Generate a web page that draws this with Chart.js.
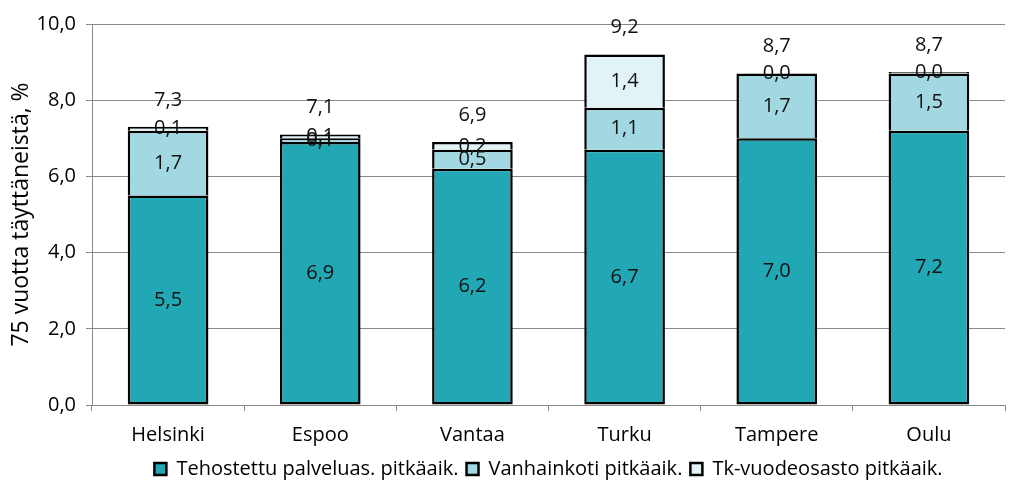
<!DOCTYPE html>
<html>
<head>
<meta charset="utf-8">
<script src="https://cdn.jsdelivr.net/npm/chart.js@4/dist/chart.umd.min.js"></script>
<style>
    html, body { margin: 0; padding: 0; background: #fff; }
    #wrap { width: 1021px; height: 489px; }
</style>
</head>
<body>
<div id="wrap"><canvas id="kaavio"></canvas></div>
<script>
// DATA
const kaupungit = ['Helsinki', 'Espoo', 'Vantaa', 'Turku', 'Tampere', 'Oulu'];
const tehostettu = [5.5, 6.9, 6.2, 6.7, 7.0, 7.2];
const vanhainkoti = [1.7, 0.1, 0.5, 1.1, 1.7, 1.5];
const tkVuodeosasto = [0.1, 0.1, 0.2, 1.4, 0.0, 0.04];
const yTicks = [0, 2, 4, 6, 8, 10];

const fontti = "'Open Sans', 'Noto Sans', sans-serif";

function pilkku(v) {
    return v.toFixed(1).replace('.', ',');
}

// arvot palkkien sisään ja summat yläpuolelle
const arvoPlugin = {
    id: 'arvot',
    afterDatasetsDraw(chart) {
        const ctx = chart.ctx;
        ctx.save();
        ctx.font = '20px ' + fontti;
        ctx.fillStyle = '#111';
        ctx.textAlign = 'center';
        ctx.textBaseline = 'middle';
        chart.data.datasets.forEach((ds, i) => {
            const meta = chart.getDatasetMeta(i);
            meta.data.forEach((bar, j) => {
                const y = (bar.y + bar.base) / 2;
                ctx.fillText(pilkku(ds.data[j]), bar.x, y);
            });
        });
        const last = chart.getDatasetMeta(chart.data.datasets.length - 1);
        last.data.forEach((bar, j) => {
            const summa = tehostettu[j] + vanhainkoti[j] + tkVuodeosasto[j];
            ctx.fillText(pilkku(summa), bar.x, bar.y - 27);
        });
        ctx.restore();
    }
};

Chart.defaults.font.family = fontti;
Chart.defaults.font.size = 20;
Chart.defaults.color = '#000';

new Chart(document.getElementById('kaavio'), {
    type: 'bar',
    data: {
        labels: kaupungit,
        datasets: [{
            label: 'Tehostettu palveluas. pitkäaik.',
            data: tehostettu,
            backgroundColor: '#22a7b4',
            borderColor: '#000',
            borderWidth: 2.5,
            borderSkipped: false
        }, {
            label: 'Vanhainkoti pitkäaik.',
            data: vanhainkoti,
            backgroundColor: '#a2d8e2',
            borderColor: '#000',
            borderWidth: 2.5,
            borderSkipped: 'start'
        }, {
            label: 'Tk-vuodeosasto pitkäaik.',
            data: tkVuodeosasto,
            backgroundColor: '#e2f3f8',
            borderColor: '#000',
            borderWidth: 2.5,
            borderSkipped: 'start'
        }]
    },
    options: {
        responsive: true,
        maintainAspectRatio: false,
        animation: false,
        barPercentage: 0.53,
        categoryPercentage: 1.0,
        layout: {
            padding: { top: 24, right: 16, left: 0, bottom: 0 }
        },
        plugins: {
            legend: {
                position: 'bottom',
                fullSize: false,
                labels: {
                    boxWidth: 12,
                    boxHeight: 12,
                    padding: 8,
                    font: { size: 20 }
                }
            },
            tooltip: { enabled: false }
        },
        scales: {
            x: {
                stacked: true,
                grid: {
                    display: true,
                    drawOnChartArea: false,
                    offset: true,
                    tickLength: 6,
                    color: '#888'
                },
                border: { color: '#888', width: 1 },
                ticks: { padding: 12 },
                afterFit(axis) {
                    axis.height = 46;
                }
            },
            y: {
                stacked: true,
                min: 0,
                max: 10,
                afterBuildTicks(axis) {
                    axis.ticks = yTicks.map(v => ({ value: v }));
                },
                afterFit(axis) {
                    axis.width = 92;
                },
                ticks: {
                    padding: 10,
                    callback: v => pilkku(v)
                },
                grid: {
                    color: '#888',
                    tickLength: 6
                },
                border: { color: '#888', width: 1 },
                title: {
                    display: true,
                    text: '75 vuotta täyttäneistä, %',
                    font: { size: 23 },
                    padding: { top: 8, bottom: 0 }
                }
            }
        }
    },
    plugins: [arvoPlugin]
});
</script>
</body>
</html>
